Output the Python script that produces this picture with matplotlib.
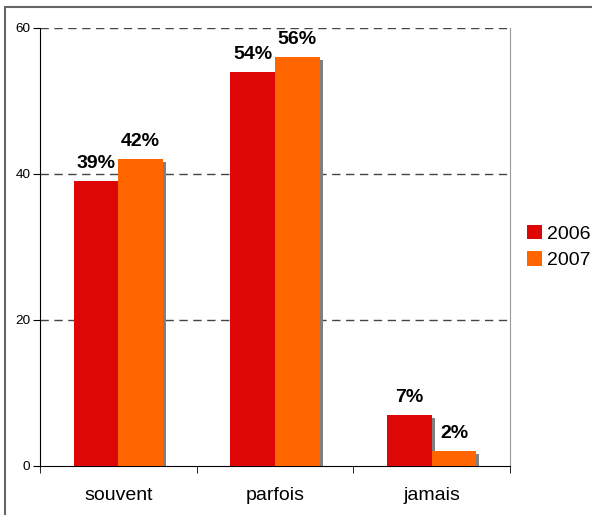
import numpy as np
import matplotlib.pyplot as plt
import matplotlib.transforms as mtransforms
from matplotlib.patches import Rectangle

plt.rcParams['font.family'] = ['Liberation Sans', 'DejaVu Sans']

# data
categories = ['souvent', 'parfois', 'jamais']
years = ['2006', '2007']
values_2006 = [39, 54, 7]
values_2007 = [42, 56, 2]
labels_2006 = ['39%', '54%', '7%']
labels_2007 = ['42%', '56%', '2%']

red = '#DD0806'
orange = '#FF6600'
shadow = '#808080'

W, H = 592, 515
fig = plt.figure(figsize=(W / 100, H / 100), dpi=100)
ax = fig.add_axes([40 / W, (H - 466) / H, 470 / W, (466 - 28) / H])

x = np.arange(len(categories))
bw = 0.285

# shadow offset 3px right, 3px down
shadow_tr = ax.transData + mtransforms.ScaledTranslation(3 / 100, -3 / 100, fig.dpi_scale_trans)
ax.bar(x - bw / 2, values_2006, bw, color=shadow, transform=shadow_tr, zorder=2)
ax.bar(x + bw / 2, values_2007, bw, color=shadow, transform=shadow_tr, zorder=2)
b1 = ax.bar(x - bw / 2, values_2006, bw, color=red, label=years[0], zorder=3)
b2 = ax.bar(x + bw / 2, values_2007, bw, color=orange, label=years[1], zorder=3)

for i in range(len(categories)):
    ax.annotate(labels_2006[i], (x[i] - bw / 2, values_2006[i]), xytext=(0, 9.5),
                textcoords='offset points', ha='center', va='baseline',
                fontsize=14, fontweight='bold', zorder=5)
    ax.annotate(labels_2007[i], (x[i] + bw / 2, values_2007[i]), xytext=(0, 9.5),
                textcoords='offset points', ha='center', va='baseline',
                fontsize=14, fontweight='bold', zorder=5)

ax.set_xlim(-0.5, 2.5)
ax.set_ylim(0, 60)
ax.set_yticks([0, 20, 40, 60])
ax.tick_params(axis='y', labelsize=9.7, length=5, pad=2, direction='out')

ax.set_xticks(x)
ax.set_xticklabels(categories, fontsize=14)
ax.set_xticks([-0.5, 0.5, 1.5, 2.5], minor=True)
ax.tick_params(axis='x', which='major', length=0, pad=15)
ax.tick_params(axis='x', which='minor', length=5, direction='out')

for yv in [20, 40, 60]:
    ax.axhline(yv, color='#444444', lw=1, ls=(0, (6, 4)), zorder=1)

ax.spines['top'].set_visible(False)
ax.spines['right'].set_color('#999999')
ax.spines['left'].set_color('black')
ax.spines['bottom'].set_color('black')

ax.legend(handles=[b1, b2], loc='center left', bbox_to_anchor=(1.02, 0.5), frameon=False,
          fontsize=14, handlelength=0.75, handleheight=0.75, handletextpad=0.25, labelspacing=0.45,
          borderaxespad=0)

# outer border
fig.patches.append(Rectangle((5 / W, -0.1), 1.2, (H - 7) / H + 0.1, transform=fig.transFigure,
                             fill=False, edgecolor='#666666', lw=1.5))

fig.savefig('out.png', dpi=100)
